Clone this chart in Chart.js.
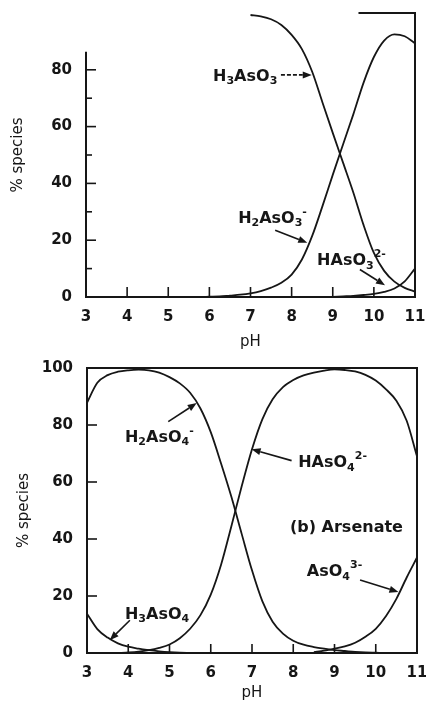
<!DOCTYPE html>
<html><head><meta charset="utf-8">
<script src="https://cdn.jsdelivr.net/npm/chart.js@4/dist/chart.umd.min.js"></script>
<style>
html,body{margin:0;padding:0;background:#fff;}
#wrap{position:relative;width:426px;height:704px;overflow:hidden;background:#fff;}
canvas{position:absolute;left:0;}
#c1{top:0;} #c2{top:340px;}
</style></head><body>
<div id="wrap"><canvas id="c1" width="426" height="351"></canvas><canvas id="c2" width="426" height="364"></canvas></div>
<script>
// ---------- data ----------
const pH = [3,3.25,3.5,3.75,4,4.25,4.5,4.75,5,5.25,5.5,5.75,6,6.25,6.5,6.75,7,7.25,7.5,7.75,8,8.25,8.5,8.75,9,9.25,9.5,9.75,10,10.25,10.5,10.75,11];
const xTickLabels = [3,4,5,6,7,8,9,10,11];
const yTicksTop = [0,20,40,60,80];
const yTicksBottom = [0,20,40,60,80,100];

// (a) arsenite
const H3AsO3  = [null,null,null,null,null,null,null,null,null,null,null,null,null,null,null,null,99.3,98.8,97.8,95.8,92.3,87.3,79.3,68.5,57.8,47.3,36.8,25.3,15.5,9.2,5.4,3.2,1.9];
const H2AsO3m = [0,0,0,0,0,0,0,0,0,0,0,0,0.1,0.2,0.5,0.8,1.3,2.1,3.3,5.0,7.9,13.2,21.5,32,43,53.7,64.3,75.5,84.5,90.3,92.5,91.8,89.3];
const HAsO3_2m= [null,null,null,null,null,null,null,null,null,null,null,null,null,null,null,null,null,null,null,null,null,null,null,null,0,0.2,0.4,0.7,1.1,1.8,3.0,5.5,10.0];

// (b) arsenate
const H3AsO4  = [13.8,8.4,5.4,3.4,2.2,1.5,1.0,0.6,0.3,0.1,0,null,null,null,null,null,null,null,null,null,null,null,null,null,null,null,null,null,null,null,null,null,null];
const H2AsO4m = [87.8,94.8,97.5,98.7,99.2,99.4,99.2,98.4,96.8,94.6,91.3,85.8,77.5,66.5,54.8,41.8,29,18.2,11,6.8,4.3,2.9,2.1,1.5,1.0,0.7,0.4,0.2,0.1,0,0,0,0];
const HAsO4_2m= [0,0,0,0,0.2,0.5,1.0,1.8,3.0,5.2,8.5,13.3,20.5,31,44.5,58.5,71.5,82,89,93.3,95.8,97.4,98.4,99.1,99.5,99.3,98.8,97.6,95.6,92.5,88.5,81.5,69];
const AsO4_3m = [null,null,null,null,null,null,null,null,null,null,null,null,null,null,null,null,null,null,null,null,null,null,0.3,0.8,1.5,2.3,3.6,5.7,8.5,13,19,26.5,33.5];

// ---------- helpers ----------
const INK = '#161616';
const FAM = "'DejaVu Sans'";
const pts = arr => pH.map((x,i)=>({x, y: arr[i]}));
function ds(arr){
  return {data: pts(arr), borderColor: INK, borderWidth: 1.8, pointRadius: 0,
          cubicInterpolationMode: 'monotone', spanGaps: false, fill: false, clip: 4};
}

function drawChem(ctx, x, y, parts, size){
  let cx = x;
  ctx.fillStyle = INK;
  ctx.textBaseline = 'alphabetic';
  ctx.textAlign = 'left';
  for (const [t, m] of parts){
    const fs = m ? Math.round(size*0.68) : size;
    ctx.font = `bold ${fs}px ${FAM}`;
    const dy = m===1 ? size*0.22 : (m===2 ? -size*0.5 : 0);
    ctx.fillText(t, cx, y+dy);
    cx += ctx.measureText(t).width;
  }
}
function arrow(ctx, x1, y1, x2, y2, dashed){
  const ang = Math.atan2(y2-y1, x2-x1);
  const hl = 9, hw = 3.5;
  const bx = x2 - hl*Math.cos(ang), by = y2 - hl*Math.sin(ang);
  ctx.save();
  ctx.strokeStyle = INK; ctx.fillStyle = INK; ctx.lineWidth = 1.6;
  if (dashed) ctx.setLineDash([4,2]);
  ctx.beginPath(); ctx.moveTo(x1,y1); ctx.lineTo(bx,by); ctx.stroke();
  ctx.setLineDash([]);
  ctx.beginPath();
  ctx.moveTo(x2,y2);
  ctx.lineTo(bx + hw*Math.sin(ang), by - hw*Math.cos(ang));
  ctx.lineTo(bx - hw*Math.sin(ang), by + hw*Math.cos(ang));
  ctx.closePath(); ctx.fill();
  ctx.restore();
}

const framePlugin = {
  id: 'frame',
  afterDatasetsDraw(chart, args, o){
    const {ctx} = chart;
    const xs = chart.scales.x, ys = chart.scales.y;
    const X = v => xs.getPixelForValue(v), Y = v => ys.getPixelForValue(v);
    ctx.save();
    ctx.strokeStyle = INK; ctx.lineWidth = 2; ctx.lineCap = 'square';
    for (const [a,b,c,d] of o.lines){
      ctx.beginPath(); ctx.moveTo(X(a),Y(b)); ctx.lineTo(X(c),Y(d)); ctx.stroke();
    }
    ctx.lineWidth = 1.6; ctx.lineCap = 'butt';
    for (const v of o.yMajor){ ctx.beginPath(); ctx.moveTo(X(3),Y(v)); ctx.lineTo(X(3)+10,Y(v)); ctx.stroke(); }
    for (const v of o.yMinor){ ctx.beginPath(); ctx.moveTo(X(3),Y(v)); ctx.lineTo(X(3)+6,Y(v)); ctx.stroke(); }
    for (const v of o.xMajor){ ctx.beginPath(); ctx.moveTo(X(v),Y(0)); ctx.lineTo(X(v),Y(0)-o.xLen); ctx.stroke(); }
    for (const L of o.labels){
      drawChem(ctx, X(L.x), Y(L.y), L.parts, 16);
    }
    for (const A of o.arrows){
      arrow(ctx, X(A[0]), Y(A[1]), X(A[2]), Y(A[3]), A[4]);
    }
    ctx.restore();
  }
};

function makeChart(id, datasets, opt){
  return new Chart(document.getElementById(id), {
    type: 'line',
    data: {datasets},
    plugins: [framePlugin],
    options: {
      responsive: false, animation: false, devicePixelRatio: 1,
      layout: {padding: opt.padding, autoPadding: false},
      plugins: {legend: {display: false}, tooltip: {enabled: false}, frame: opt.frame},
      scales: {
        x: {
          type: 'linear', min: 3, max: 11,
          afterBuildTicks: s => { s.ticks = xTickLabels.map(v => ({value: v})); },
          afterFit: s => { s.height = opt.xHeight; s.paddingLeft = 0; s.paddingRight = 0; },
          grid: {display: false, drawTicks: false}, border: {display: false},
          ticks: {color: INK, padding: opt.xPad, font: {family: FAM, weight: 'bold', size: 15}, maxRotation: 0},
          title: {display: true, text: 'pH', color: INK, padding: {top: 0, bottom: opt.xTitlePad},
                  font: {family: FAM, size: 15}}
        },
        y: {
          min: 0, max: 100,
          afterBuildTicks: s => { s.ticks = opt.yTicks.map(v => ({value: v})); },
          afterFit: s => { s.width = opt.yWidth; s.paddingTop = 0; s.paddingBottom = 0; },
          grid: {display: false, drawTicks: false}, border: {display: false},
          ticks: {color: INK, padding: 14, font: {family: FAM, weight: 'bold', size: 15}},
          title: {display: true, text: '% species', color: INK, padding: {top: opt.yTitlePad, bottom: 0},
                  font: {family: FAM, size: 15}}
        }
      }
    }
  });
}

makeChart('c1', [ds(H3AsO3), ds(H2AsO3m), ds(HAsO3_2m)], {
  padding: {left: 0, right: 11, top: 13, bottom: 0},
  xHeight: 54, yWidth: 86, xPad: 11, xTitlePad: 0, yTitlePad: 9,
  yTicks: yTicksTop,
  frame: {
    lines: [[3,0,11,0],[3,0,3,86],[11,0,11,100],[9.65,100,11,100]],
    yMajor: [20,40,60,80], yMinor: [10,30,50,70], xMajor: [4,5,6,7,8,9,10], xLen: 10,
    labels: [
      {x: 6.09, y: 76.2, parts: [['H',0],['3',1],['AsO',0],['3',1]]},
      {x: 6.70, y: 26.1, parts: [['H',0],['2',1],['AsO',0],['3',1],['-',2]]},
      {x: 8.62, y: 11.1, parts: [['HAsO',0],['3',1],['2-',2]]}
    ],
    arrows: [
      [7.74, 78.2, 8.49, 78.2, true],
      [7.60, 23.5, 8.38, 19.1, false],
      [9.66, 9.7, 10.27, 4.1, false]
    ]
  }
});

makeChart('c2', [ds(H3AsO4), ds(H2AsO4m), ds(HAsO4_2m), ds(AsO4_3m)], {
  padding: {left: 0, right: 9, top: 28, bottom: 0},
  xHeight: 51, yWidth: 87, xPad: 11, xTitlePad: 2, yTitlePad: 15,
  yTicks: yTicksBottom,
  frame: {
    lines: [[3,0,11,0],[3,0,3,100],[11,0,11,100],[3,100,11,100]],
    yMajor: [20,40,60,80], yMinor: [], xMajor: [4,5,6,7,8,9,10], xLen: 9,
    labels: [
      {x: 3.92, y: 74.2, parts: [['H',0],['2',1],['AsO',0],['4',1],['-',2]]},
      {x: 8.12, y: 65.2, parts: [['HAsO',0],['4',1],['2-',2]]},
      {x: 7.92, y: 42.5, parts: [['(b) Arsenate',0]]},
      {x: 8.33, y: 27.0, parts: [['AsO',0],['4',1],['3-',2]]},
      {x: 3.92, y: 12.1, parts: [['H',0],['3',1],['AsO',0],['4',1]]}
    ],
    arrows: [
      [4.97, 81.2, 5.66, 87.7, false],
      [7.96, 67.5, 6.99, 71.5, false],
      [9.62, 25.6, 10.55, 21.4, false],
      [4.04, 11.5, 3.55, 4.5, false]
    ]
  }
});
</script>
</body></html>
